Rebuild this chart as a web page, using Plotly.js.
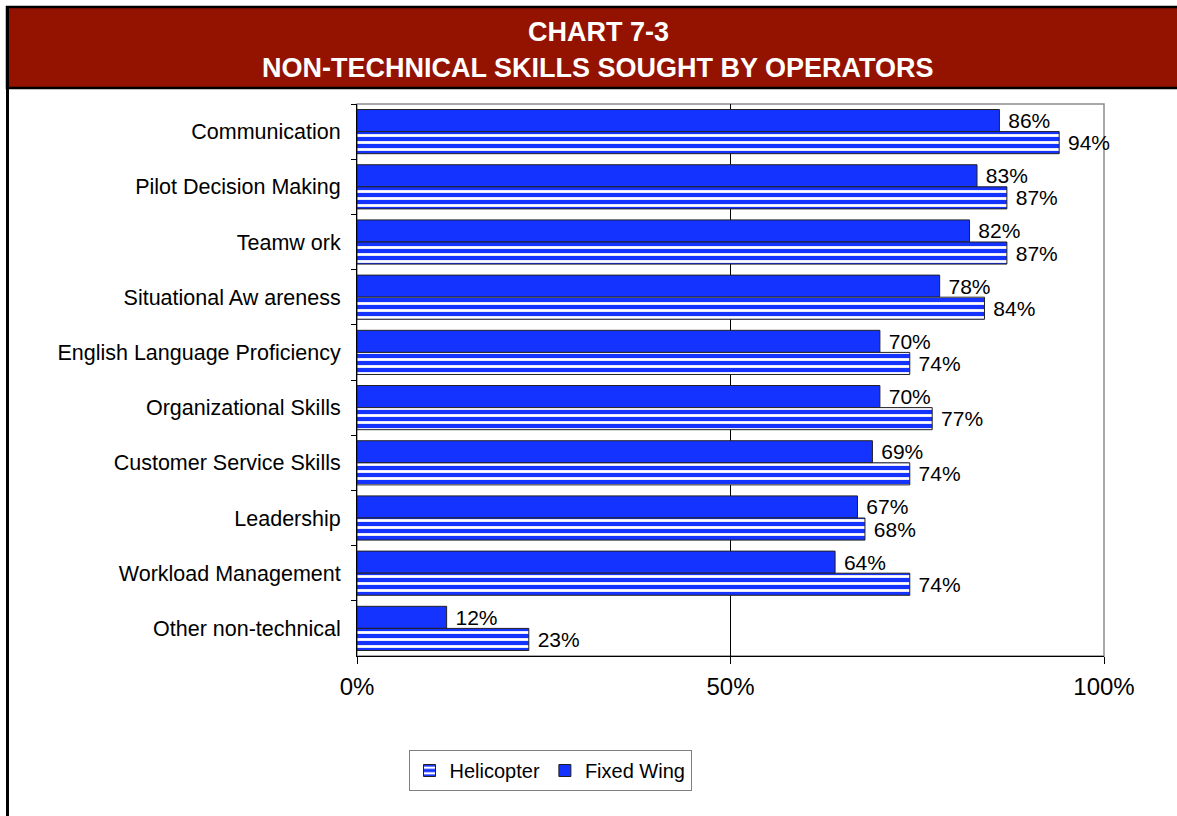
<!DOCTYPE html>
<html>
<head>
<meta charset="utf-8">
<script src="https://cdn.plot.ly/plotly-3.0.1.min.js"></script>
<style>
  html, body { margin: 0; padding: 0; background: #ffffff; }
  #chart { width: 1177px; height: 816px; }
</style>
</head>
<body>
<div id="chart"></div>
<script>
const categories = [
  "Communication",
  "Pilot Decision Making",
  "Teamw ork",
  "Situational Aw areness",
  "English Language Proficiency",
  "Organizational Skills",
  "Customer Service Skills",
  "Leadership",
  "Workload Management",
  "Other non-technical"
];
const fixedWing = [86, 83, 82, 78, 70, 70, 69, 67, 64, 12];
const helicopter = [94, 87, 87, 84, 74, 77, 74, 68, 74, 23];
const tickValues = [0, 50, 100];
const tickLabels = ["0%", "50%", "100%"];
const titleLines = ["CHART 7-3", "NON-TECHNICAL SKILLS SOUGHT BY OPERATORS"];

const BLUE = "#1533FF";
const FONT = "Liberation Sans, Arial, sans-serif";
const TITLE_FONT = "Liberation Sans, Arial, sans-serif";

// plot area geometry (pixels)
const L = 357, R = 1104, T = 104, B = 656, W = 1177, H = 816;
const px = v => (v - L) / (R - L);
const py = v => (B - v) / (B - T);

const traces = [
  {
    type: "bar", orientation: "h", name: "Fixed Wing",
    y: categories, x: fixedWing,
    marker: { color: BLUE, line: { color: "#202020", width: 1 } },
    text: fixedWing.map(v => " " + v + "%"), textposition: "outside",
    textfont: { family: FONT, size: 21, color: "#000" },
    constraintext: "none", cliponaxis: false, hoverinfo: "skip"
  },
  {
    type: "bar", orientation: "h", name: "Helicopter",
    y: categories, x: helicopter,
    marker: {
      color: BLUE,
      line: { color: "#202020", width: 1 },
      pattern: { shape: "-", fgcolor: "#ffffff", bgcolor: BLUE, size: 7, solidity: 0.4, fillmode: "replace" }
    },
    text: helicopter.map(v => " " + v + "%"), textposition: "outside",
    textfont: { family: FONT, size: 21, color: "#000" },
    constraintext: "none", cliponaxis: false, hoverinfo: "skip"
  }
];

const layout = {
  width: W, height: H,
  margin: { l: L, r: W - R, t: T, b: H - B, pad: 0 },
  paper_bgcolor: "#ffffff", plot_bgcolor: "#ffffff",
  font: { family: FONT, color: "#000" },
  barmode: "group", bargap: 0.2, bargroupgap: 0,
  showlegend: true,
  legend: {
    orientation: "h", traceorder: "reversed",
    x: px(550), xanchor: "center", y: py(750), yanchor: "top",
    bordercolor: "#7f7f7f", borderwidth: 1,
    font: { family: FONT, size: 20, color: "#000" },
    itemwidth: 30
  },
  xaxis: {
    range: [0, 100], tickvals: tickValues, ticktext: tickLabels,
    showgrid: true, gridcolor: "#000", gridwidth: 1,
    showline: true, linecolor: "#000", linewidth: 1,
    ticks: "outside", ticklen: 7, tickcolor: "#000",
    tickfont: { family: FONT, size: 24, color: "#000" },
    ticklabelstandoff: 2, zeroline: false, fixedrange: true
  },
  yaxis: {
    type: "category", autorange: "reversed",
    showline: true, linecolor: "#000", linewidth: 1,
    ticks: "outside", tickson: "boundaries", ticklen: 5, tickcolor: "#000",
    tickfont: { family: FONT, size: 21.5, color: "#000" },
    ticklabelstandoff: 11, showgrid: false, fixedrange: true
  },
  shapes: [
    // gray plot border (top/right)
    { type: "rect", xref: "paper", yref: "paper", x0: 0, x1: 1, y0: 0, y1: 1,
      line: { color: "#8c8c8c", width: 1.5 }, fillcolor: "rgba(0,0,0,0)", layer: "below" },
    // title bar
    { type: "rect", xref: "paper", yref: "paper", x0: px(7), x1: px(1185), y0: py(88), y1: py(7),
      fillcolor: "#931300", line: { color: "#000", width: 2.5 }, layer: "above" },
    // left frame line
    { type: "line", xref: "paper", yref: "paper", x0: px(7.5), x1: px(7.5), y0: py(7), y1: py(820),
      line: { color: "#000", width: 3 }, layer: "above" }
  ],
  annotations: [
    { text: "<b>" + titleLines[0] + "</b>", xref: "paper", yref: "paper",
      x: px(598), y: py(32), xanchor: "center", yanchor: "middle", showarrow: false,
      font: { family: TITLE_FONT, size: 27, color: "#fff" } },
    { text: "<b>" + titleLines[1] + "</b>", xref: "paper", yref: "paper",
      x: px(598), y: py(68), xanchor: "center", yanchor: "middle", showarrow: false,
      font: { family: TITLE_FONT, size: 27, color: "#fff" } }
  ]
};

Plotly.newPlot("chart", traces, layout, { displayModeBar: false, staticPlot: true });
</script>
</body>
</html>
